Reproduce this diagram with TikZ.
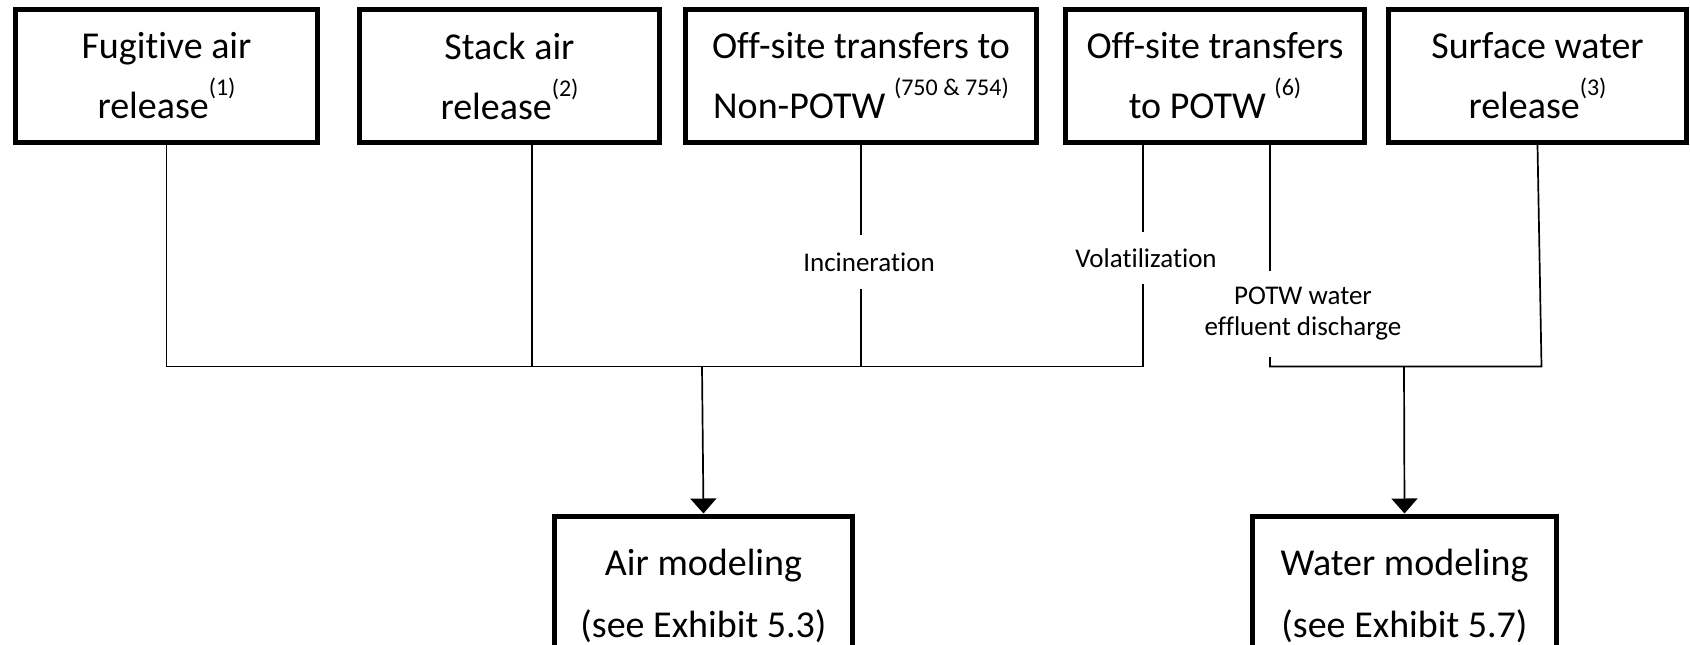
\documentclass[tikz,border=0pt]{standalone}
\usepackage{fontspec}
\setmainfont{Carlito}[Ligatures=NoCommon]
\usetikzlibrary{arrows.meta,positioning}

\newcommand{\supnote}[1]{\raisebox{23pt}{\fontsize{24}{24}\selectfont #1}}

\tikzset{
  srcbox/.style={draw, line width=5pt, minimum height=133pt, inner sep=0pt,
    align=center, font=\fontsize{38}{60}\selectfont},
  modelbox/.style={draw, line width=5pt, anchor=north, minimum height=300pt},
  modeltext/.style={align=center, font=\fontsize{38}{62}\selectfont},
  flowline/.style={line width=1.7pt},
  flowlabel/.style={inner sep=0pt, align=center, font=\fontsize{27}{31}\selectfont},
  flowarrow/.style={flowline, -{Triangle[length=15pt,width=26pt]}},
}

\begin{document}
\begin{tikzpicture}[x=1pt,y=-1pt]
  \clip (0,0) rectangle (1690,645);

  % Release / transfer boxes
  \node[srcbox, minimum width=302pt] (fugitive) at (166.5,76) {Fugitive air\\release\supnote{(1)}};
  \node[srcbox, minimum width=300pt] (stack) at (509.5,76) {Stack air\\release\supnote{(2)}};
  \node[srcbox, minimum width=351pt] (nonpotw) at (861,76) {Off-site transfers to\\Non-POTW \supnote{(750 \& 754)}};
  \node[srcbox, minimum width=299pt] (potw) at (1215,76) {Off-site transfers\\to POTW \supnote{(6)}};
  \node[srcbox, minimum width=298pt] (surface) at (1537.5,76) {Surface water\\release\supnote{(3)}};

  % Modeling boxes
  \node[modelbox, minimum width=298pt] (air) at (703.5,513.5) {};
  \node[modeltext] (airtext) at (703.5,596) {Air modeling\\(see Exhibit 5.3)};
  \node[modelbox, minimum width=304pt] (water) at (1404.5,513.5) {};
  \node[modeltext] (watertext) at (1404.5,596) {Water modeling\\(see Exhibit 5.7)};

  % Taps and junctions
  \coordinate (stacktap) at (532,142.5);
  \coordinate (voltap) at (1143,142.5);
  \coordinate (effltap) at (1270,142.5);
  \coordinate (airjoin) at (702,366.5);
  \coordinate (waterjoin) at (1404,366.5);

  % Labels on the lines
  \node[flowlabel, minimum height=53pt] (incin) at (869,262) {Incineration};
  \node[flowlabel, minimum height=52pt] (volat) at (1146,258) {Volatilization};
  \node[flowlabel, minimum height=86pt] (effl) at (1303,314) {POTW water\\effluent discharge};

  % Air side
  \draw[flowline] (fugitive.south) -- (fugitive.south |- airjoin) -- (voltap |- airjoin);
  \draw[flowline] (stacktap) -- (stacktap |- airjoin);
  \draw[flowline] (nonpotw.south) -- (incin.north -| nonpotw.south);
  \draw[flowline] (incin.south -| nonpotw.south) -- (nonpotw.south |- airjoin);
  \draw[flowline] (voltap) -- (volat.north -| voltap);
  \draw[flowline] (volat.south -| voltap) -- (voltap |- airjoin);
  \draw[flowarrow] (airjoin) -- (air.north);

  % Water side
  \draw[flowline] (effltap) -- (effl.north -| effltap);
  \draw[flowline] (effl.south -| effltap) -- (effltap |- waterjoin) -- (1541.5,366.5) -- (surface.south);
  \draw[flowarrow] (waterjoin) -- (water.north);
\end{tikzpicture}
\end{document}
